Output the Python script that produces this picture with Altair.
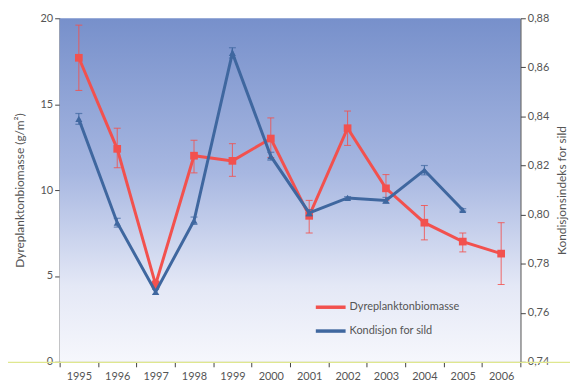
import altair as alt
import pandas as pd

years = ["1995", "1996", "1997", "1998", "1999", "2000", "2001", "2002", "2003", "2004", "2005", "2006"]

# Dyreplanktonbiomasse (g/m2) with error bar limits
zoo = [17.7, 12.4, 4.5, 12.0, 11.7, 13.0, 8.5, 13.6, 10.1, 8.1, 7.0, 6.3]
zoo_hi = [19.6, 13.6, 4.7, 12.9, 12.7, 14.2, 9.4, 14.6, 10.9, 9.1, 7.5, 8.1]
zoo_lo = [15.8, 11.3, 4.3, 11.0, 10.8, 11.9, 7.5, 12.6, 9.4, 7.1, 6.4, 4.5]

# Kondisjon for sild (2006 missing)
kond_years = ["1995", "1996", "1997", "1998", "1999", "2000", "2001", "2002", "2003", "2004", "2005"]
kond = [0.839, 0.7967, 0.7685, 0.7975, 0.8659, 0.8238, 0.8007, 0.8068, 0.8058, 0.8181, 0.8019]
kond_hi = [0.8412, 0.7985, 0.7695, 0.7990, 0.8680, 0.8254, 0.8020, 0.8073, 0.8070, 0.8200, 0.8024]
kond_lo = [0.8368, 0.7949, 0.7675, 0.7960, 0.8638, 0.8222, 0.7994, 0.8063, 0.8046, 0.8162, 0.8014]

series_names = ["Dyreplanktonbiomasse", "Kondisjon for sild"]
RED = "#f2514e"
BLUE = "#3f679f"
FONT = "Lato"

df_z = pd.DataFrame({"year": years, "v": zoo, "hi": zoo_hi, "lo": zoo_lo, "series": series_names[0]})
df_k = pd.DataFrame({"year": kond_years, "v": kond, "hi": kond_hi, "lo": kond_lo, "series": series_names[1]})

W, H = 464, 346

xenc = alt.X("year:O", scale=alt.Scale(type="band", domain=years, paddingInner=0, paddingOuter=0),
             axis=alt.Axis(title=None, tickBand="extent", labelAngle=0, labelFont=FONT, labelFontSize=11,
                           labelColor="#555", domainColor="#444", tickColor="#444", tickSize=5,
                           labelPadding=4, domainWidth=1.2))

color_scale = alt.Scale(domain=series_names, range=[RED, BLUE])
legend = alt.Legend(title=None, orient="none", legendX=256, legendY=274, symbolType="stroke",
                    symbolStrokeWidth=3.5, symbolSize=900, labelFont=FONT, labelFontSize=11,
                    labelColor="#555", rowPadding=-6, labelOffset=2)

yl_scale = alt.Scale(domain=[0, 20], nice=False, zero=True)
yl_axis = alt.Axis(title="Dyreplanktonbiomasse (g/m²)", values=[0, 5, 10, 15, 20], grid=False,
                   labelFont=FONT, labelFontSize=11, labelColor="#555", titleFont=FONT, titleFontSize=12,
                   titleFontWeight="normal", titleColor="#555", domainColor="#444", tickColor="#444",
                   tickSize=5, titlePadding=14, domainWidth=1.2)

yr_scale = alt.Scale(domain=[0.74, 0.88], nice=False, zero=False)
yr_axis = alt.Axis(title="Kondisjonsindeks for sild", orient="right", values=[0.74, 0.76, 0.78, 0.80, 0.82, 0.84, 0.86, 0.88],
                   labelExpr="replace(format(datum.value, '.2f'), '.', ',')", grid=False,
                   labelFont=FONT, labelFontSize=11, labelColor="#555", titleFont=FONT, titleFontSize=12,
                   titleFontWeight="normal", titleColor="#555", domainColor="#444", tickColor="#444",
                   tickSize=5, titleAngle=270, titlePadding=20, domainWidth=1.2)

bg = alt.Chart(pd.DataFrame({"a": [0]})).mark_rect(
    color=alt.LinearGradient(gradient="linear", x1=0, y1=0, x2=0, y2=1,
                             stops=[alt.GradientStop(color="#7790cb", offset=0),
                                    alt.GradientStop(color="#a7b7e1", offset=0.45),
                                    alt.GradientStop(color="#e4e8f6", offset=0.78),
                                    alt.GradientStop(color="#f6f7fc", offset=1)])
).encode(x=alt.value(0), x2=alt.value(W), y=alt.value(0), y2=alt.value(H))

yline = alt.Chart(pd.DataFrame({"a": [0]})).mark_rule(color="#dfe78f", strokeWidth=1.2).encode(
    x=alt.value(-60), x2=alt.value(W + 54), y=alt.value(H + 0.5))

base_z = alt.Chart(df_z).encode(x=xenc)
red_err = base_z.mark_rule(color=RED, strokeWidth=1, opacity=0.85).encode(
    y=alt.Y("lo:Q", scale=yl_scale, axis=yl_axis), y2="hi:Q")
red_cap_hi = base_z.mark_tick(color=RED, size=7, thickness=1, opacity=0.85).encode(y=alt.Y("hi:Q"))
red_cap_lo = base_z.mark_tick(color=RED, size=7, thickness=1, opacity=0.85).encode(y=alt.Y("lo:Q"))
red_line = base_z.mark_line(strokeWidth=3).encode(
    y=alt.Y("v:Q"), color=alt.Color("series:N", scale=color_scale, legend=legend))
red_pts = base_z.mark_point(shape="square", filled=True, size=60, color=RED, opacity=1).encode(y=alt.Y("v:Q"))
left = alt.layer(red_err, red_cap_hi, red_cap_lo, red_line, red_pts)

base_k = alt.Chart(df_k).encode(x=xenc)
blue_err = base_k.mark_rule(color=BLUE, strokeWidth=1).encode(
    y=alt.Y("lo:Q", scale=yr_scale, axis=yr_axis), y2="hi:Q")
blue_cap_hi = base_k.mark_tick(color=BLUE, size=7, thickness=1.2).encode(y=alt.Y("hi:Q"))
blue_cap_lo = base_k.mark_tick(color=BLUE, size=7, thickness=1.2).encode(y=alt.Y("lo:Q"))
blue_line = base_k.mark_line(strokeWidth=3).encode(
    y=alt.Y("v:Q"), color=alt.Color("series:N", scale=color_scale, legend=legend))
blue_pts = base_k.mark_point(shape="triangle-up", filled=True, size=50, color=BLUE, opacity=1).encode(y=alt.Y("v:Q"))
right = alt.layer(blue_err, blue_cap_hi, blue_cap_lo, blue_line, blue_pts)

chart = alt.layer(bg, yline, left, right).resolve_scale(y="independent").properties(
    width=W, height=H,
    autosize=alt.AutoSizeParams(type="none"),
    padding={"left": 52, "top": 9, "right": 50, "bottom": 25},
    background="white",
).configure_view(stroke=None)

chart.save("out.html", embed_options={"renderer": "svg", "actions": False})
